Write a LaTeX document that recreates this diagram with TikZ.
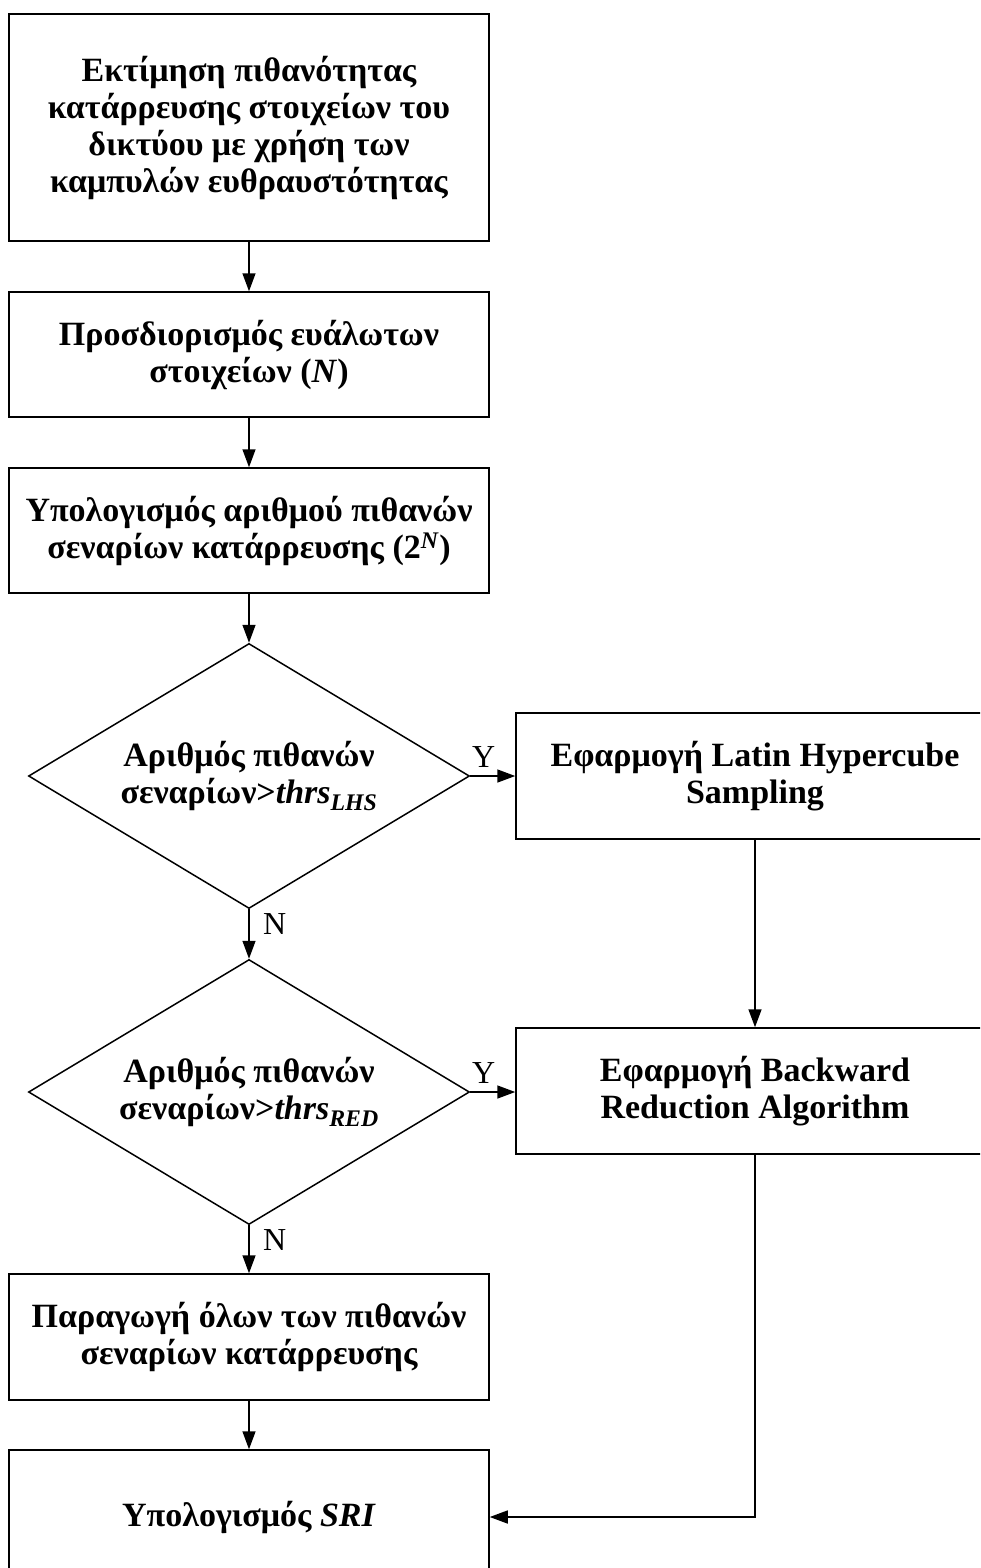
\documentclass[tikz,border=0pt]{standalone}
\usepackage{fontspec}
\setmainfont{Liberation Serif}
\usetikzlibrary{arrows.meta,shapes.geometric}
\begin{document}
\begin{tikzpicture}[x=1pt,y=1pt,
  every node/.style={font=\fontsize{34}{37}\selectfont\bfseries, align=center},
  procbox/.style={draw, line width=1.5pt, rectangle, inner sep=0pt, minimum width=480pt},
  decision/.style={draw, line width=1.5pt, diamond, inner sep=0pt, minimum width=441pt, minimum height=265pt},
  conn/.style={line width=1.5pt, -{Triangle[length=18pt,width=13pt]}},
  lbl/.style={font=\fontsize{32}{34}\selectfont\mdseries}]
\clip (0,0) rectangle (980,-1568);
\fill[white] (0,0) rectangle (980,-1568);
\node[procbox, minimum height=227pt] (b1) at (249,-127.5) {Εκτίμηση πιθανότητας\\κατάρρευσης στοιχείων του\\δικτύου με χρήση των\\καμπυλών ευθραυστότητας};
\node[procbox, minimum height=125pt] (b2) at (249,-354.5) {Προσδιορισμός ευάλωτων\\στοιχείων (\textit{N})};
\node[procbox, minimum height=125pt] (b3) at (249,-530.5) {Υπολογισμός αριθμού πιθανών\\σεναρίων κατάρρευσης (2\textsuperscript{\textit{N}})};
\node[decision] (d1) at (249,-776) {};
\node (d1t) at (d1.center) {Αριθμός πιθανών\\σεναρίων>\textit{thrs}\textsubscript{\textit{LHS}}};
\node[procbox, minimum width=478pt, minimum height=126pt] (lhs) at (755,-776) {Εφαρμογή Latin Hypercube\\Sampling};
\node[decision] (d2) at (249,-1092) {};
\node (d2t) at (d2.center) {Αριθμός πιθανών\\σεναρίων>\textit{thrs}\textsubscript{\textit{RED}}};
\node[procbox, minimum width=478pt, minimum height=126pt] (bra) at (755,-1091) {Εφαρμογή Backward\\Reduction Algorithm};
\node[procbox, minimum height=126pt] (b6) at (249,-1337) {Παραγωγή όλων των πιθανών\\σεναρίων κατάρρευσης};
\node[procbox, minimum height=134pt] (b7) at (249,-1517) {Υπολογισμός \textit{SRI}};
\draw[conn] (b1) -- (b2);
\draw[conn] (b2) -- (b3);
\draw[conn] (b3) -- (d1);
\draw[conn] (d1.east) -- (lhs.west) node[lbl, pos=0.3, above=4pt] (y1) {Y};
\draw[conn] (d1.south) -- (d2.north) node[lbl, pos=0.3, right=10pt] (n1) {N};
\draw[conn] (lhs) -- (bra);
\draw[conn] (d2.east) -- (bra.west |- d2.east) node[lbl, pos=0.3, above=4pt] (y2) {Y};
\draw[conn] (d2.south) -- (b6.north) node[lbl, pos=0.3, right=10pt] (n2) {N};
\draw[conn] (b6) -- (b7);
\draw[conn] (bra.south) |- (b7.east);
\end{tikzpicture}
\end{document}
